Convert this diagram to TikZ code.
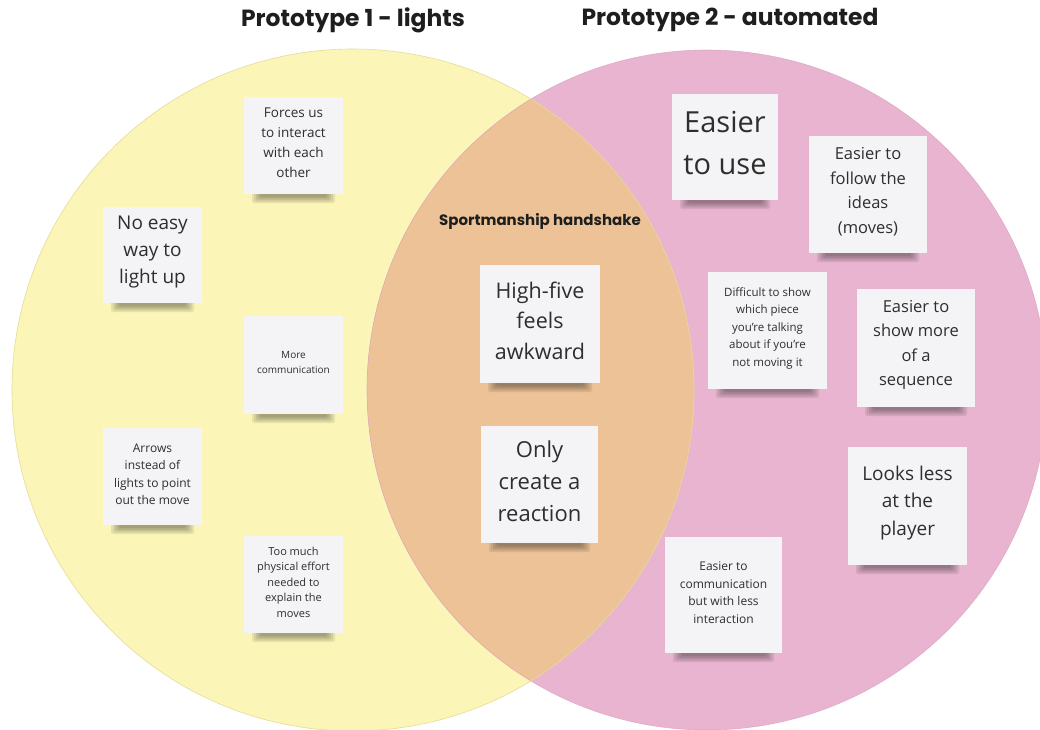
\documentclass[tikz,border=0pt]{standalone}
\usepackage{fontspec}
\setmainfont{Open Sans}
\newfontfamily\headfont{Poppins}
\definecolor{setyellow}{HTML}{FBF5B8}
\definecolor{setpink}{HTML}{E8B4CF}
\definecolor{setboth}{HTML}{ECC296}
\definecolor{yedge}{HTML}{E6DC98}
\definecolor{pedge}{HTML}{D9A0BE}
\definecolor{notebg}{HTML}{F4F4F6}
\definecolor{notetext}{HTML}{2E2E2E}
\definecolor{headtext}{HTML}{1E1E1E}
\tikzset{
  stickynote/.style={fill=notebg, inner sep=0pt},
  notetextstyle/.style={align=center, text=notetext, inner sep=0pt},
  heading/.style={text=headtext, inner sep=0pt},
  noteshadow/.style={fill=black, opacity=0.08, rounded corners=2pt}
}
% #1 name, #2-#5 box corners (left, top, right, bottom), #6 font size, #7 line skip, #8 text
\newcommand\sticky[8]{%
  \foreach \k in {0,...,4}{%
    \fill[noteshadow] ({#2+8+2*\k},{#5-3}) rectangle ({#4-8-2*\k},{#5+9-1.5*\k});
  }
  \node[stickynote, minimum width={(#4-#2)*1pt}, minimum height={(#5-#3)*1pt}]
    (#1) at ({(#2+#4)/2},{(#3+#5)/2}) {};
  \node[notetextstyle, font=\fontsize{#6}{#7}\selectfont, yshift={(1.2+0.1*#6)*1pt}]
    (#1-text) at (#1.center) {#8};
}
\begin{document}
\begin{tikzpicture}[x=1pt,y=-1pt]
  \useasboundingbox (0,0) rectangle (1040,729);
  \fill[white] (0,0) rectangle (1040,729);

  % the two sets
  \fill[setyellow] (353,390) circle (341pt);
  \fill[setpink] (707,390) circle (340pt);
  \begin{scope}
    \clip (353,390) circle (341pt);
    \fill[setboth] (707,390) circle (340pt);
  \end{scope}
  \draw[yedge, line width=0.6pt] (353,390) circle (341pt);
  \draw[pedge, line width=0.6pt, opacity=0.7] (707,390) circle (340pt);

  % headings
  \node[heading, font=\headfont\bfseries\fontsize{23.4}{28}\selectfont] (h1) at (353,20) {Prototype 1 - lights};
  \node[heading, font=\headfont\bfseries\fontsize{23.4}{28}\selectfont] (h2) at (730,20) {Prototype 2 - automated};
  \node[heading, font=\headfont\bfseries\fontsize{15}{18}\selectfont] (hs) at (540,221) {Sportmanship handshake};

  % prototype 1 notes
  \sticky{forces}{244}{97}{343}{194}{13.5}{20}{Forces us\\to interact\\with each\\other}
  \sticky{noeasy}{103}{207}{202}{303}{19}{27}{No easy\\way to\\light up}
  \sticky{morecomm}{244}{316}{343}{414}{10}{15}{More\\communication}
  \sticky{arrows}{103}{428}{202}{525}{12}{17.3}{Arrows\\instead of\\lights to point\\out the move}
  \sticky{effort}{244}{536}{343}{633}{11}{15.5}{Too much\\physical effort\\needed to\\explain the\\moves}

  % shared notes
  \sticky{highfive}{480}{265}{600}{383}{21.5}{30.5}{High-five\\feels\\awkward}
  \sticky{reaction}{481}{426}{598}{543}{22}{32}{Only\\create a\\reaction}

  % prototype 2 notes
  \sticky{easyuse}{672}{94}{778}{200}{29}{42}{Easier\\to use}
  \sticky{follow}{809}{136}{927}{253}{16.5}{24.5}{Easier to\\follow the\\ideas\\(moves)}
  \sticky{difficult}{708}{272}{827}{389}{11.5}{17.5}{Difficult to show\\which piece\\you're talking\\about if you're\\not moving it}
  \sticky{sequence}{857}{289}{975}{407}{16.5}{24.5}{Easier to\\show more\\of a\\sequence}
  \sticky{looks}{848}{447}{967}{565}{19}{27.5}{Looks less\\at the\\player}
  \sticky{lessint}{665}{537}{782}{653}{12}{17.5}{Easier to\\communication\\but with less\\interaction}
\end{tikzpicture}
\end{document}
